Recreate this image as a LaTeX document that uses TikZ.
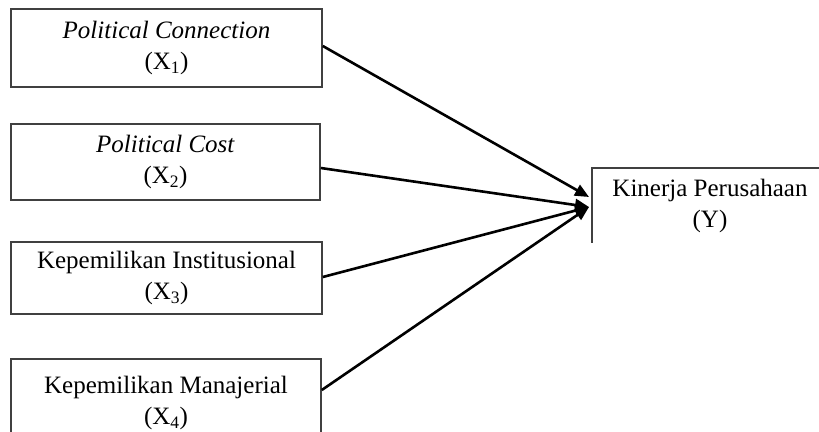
\documentclass[tikz,border=0pt]{standalone}
\usepackage{fontspec}
\setmainfont{Liberation Serif}
\usetikzlibrary{arrows.meta}
\begin{document}
\begin{tikzpicture}[x=1pt,y=-1pt,
  boxline/.style={draw=black!75, line width=1.6pt},
  var/.style={boxline, inner sep=0pt, align=center, font=\fontsize{25}{31}\selectfont},
  conn/.style={line width=2.6pt, -{Triangle[length=14pt,width=12pt]}}]
\useasboundingbox (0,0) rectangle (819,431);
\clip (0,0) rectangle (819,431);
\node[var, minimum width=311pt, minimum height=78pt] (b1) at (166.5,48) {\textit{Political Connection}\\(X\textsubscript{1})};
\node[var, minimum width=309pt, minimum height=76pt] (b2) at (165.5,162) {\textit{Political Cost}\\(X\textsubscript{2})};
\node[var, minimum width=311pt, minimum height=72pt] (b3) at (166.5,278) {Kepemilikan Institusional\\(X\textsubscript{3})};
\node[var, minimum width=310pt, minimum height=88pt] (b4) at (166,403) {Kepemilikan Manajerial\\(X\textsubscript{4})};
\node[var, draw=none, minimum width=234pt, minimum height=73pt] (y) at (710,205.5) {Kinerja Perusahaan\\(Y)};
\draw[boxline] (y.south west) -- (y.north west) -- (y.north east);
\coordinate (t1) at (589,197);
\coordinate (t2) at (589,207);
\draw[conn] ([yshift=2pt]b1.east) -- (t1);
\draw[conn] ([yshift=-6pt]b2.east) -- (t2);
\draw[conn] ([yshift=1pt]b3.east) -- (t2);
\draw[conn] ([yshift=13pt]b4.east) -- (t2);
\end{tikzpicture}
\end{document}
